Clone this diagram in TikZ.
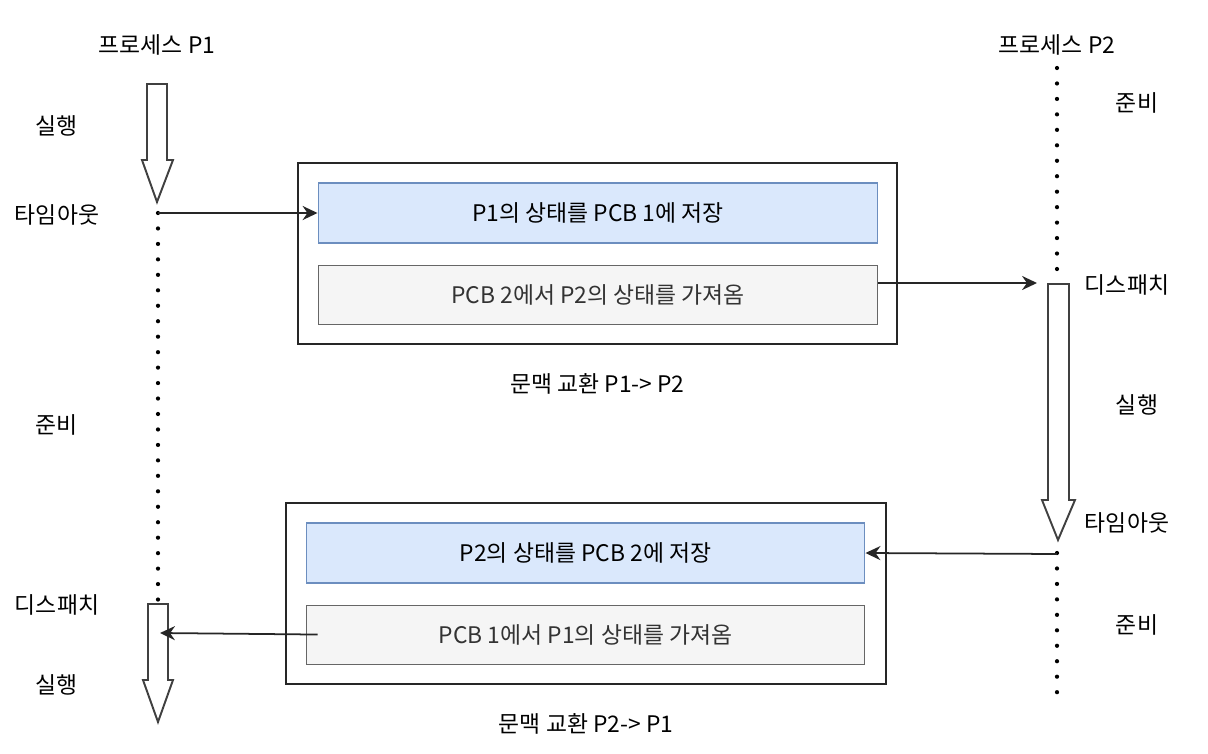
\documentclass[tikz,border=0pt]{standalone}
\usepackage{fontspec}
\setmainfont{Noto Sans CJK KR}
\usetikzlibrary{positioning, arrows.meta}

\definecolor{savefill}{HTML}{DAE8FC}
\definecolor{savedraw}{HTML}{6C8EBF}
\definecolor{loadfill}{HTML}{F5F5F5}
\definecolor{loaddraw}{HTML}{666666}
\definecolor{loadtext}{HTML}{333333}

\begin{document}
\begin{tikzpicture}[x=0.02cm, y=-0.02cm, font=\fontsize{13}{15.5}\selectfont,
    lbl/.style={inner sep=0pt},
    savebox/.style={draw=savedraw, fill=savefill, line width=0.6pt, minimum width=11.2cm, minimum height=1.2cm, inner sep=0pt},
    loadbox/.style={draw=loaddraw, fill=loadfill, text=loadtext, line width=0.6pt, minimum width=11.2cm, minimum height=1.18cm, inner sep=0pt},
    switchbox/.style={draw=black!85, line width=1.1pt, minimum width=12cm, minimum height=3.62cm, inner sep=0pt},
    conn/.style={-{Stealth[length=8.5pt, width=8pt]}, line width=1pt, black!85},
    waiting/.style={line width=2.4pt, dash pattern=on 0pt off 8.8pt, line cap=round, black},
    running/.style={draw=black!75, line width=1.1pt, fill=white, line join=miter}]

    \useasboundingbox (0,0) rectangle (1208,754);

    % process titles
    \node[lbl] (p1title) at (157,45) {프로세스 P1};
    \node[lbl] (p2title) at (1057,45) {프로세스 P2};

    % P1 time line
    \draw[running] (147,84) -- (167,84) -- (167,160) -- (173,160) -- (157,202) -- (142,160) -- (147,160) -- cycle;
    \draw[waiting] (158,213) -- (158,604);
    \draw[running] (148,604) -- (168,604) -- (168,680) -- (173,680) -- (158,722) -- (143,680) -- (148,680) -- cycle;
    \coordinate (p1timeout) at (158,213);
    \coordinate (p1dispatch) at (160,633);

    \node[lbl] (p1run) at (57,126) {실행};
    \node[lbl] (p1out) at (57,215) {타임아웃};
    \node[lbl] (p1ready) at (57,425) {준비};
    \node[lbl] (p1disp) at (57,605) {디스패치};
    \node[lbl] (p1run2) at (57,685) {실행};

    % P2 time line
    \draw[waiting] (1057,68) -- (1057,284);
    \draw[running] (1048,284) -- (1069,284) -- (1069,500) -- (1075,500) -- (1058,540) -- (1042,500) -- (1048,500) -- cycle;
    \draw[waiting] (1057,553) -- (1057,705);
    \coordinate (p2dispatch) at (1037,283);
    \coordinate (p2timeout) at (1057,554);

    \node[lbl] (p2ready) at (1137,103) {준비};
    \node[lbl] (p2disp) at (1127,285) {디스패치};
    \node[lbl] (p2run) at (1137,405) {실행};
    \node[lbl] (p2out) at (1127,523) {타임아웃};
    \node[lbl] (p2ready2) at (1137,625) {준비};

    % context switch P1 -> P2
    \node[switchbox] (switch1) at (597.5,253.5) {};
    \node[savebox] (save1) at (598,213) {P1의 상태를 PCB 1에 저장};
    \node[loadbox, below=0.42cm of save1] (load1) {PCB 2에서 P2의 상태를 가져옴};
    \node[lbl, below=0.56cm of switch1] (cap1) {문맥 교환 P1-> P2};

    % context switch P2 -> P1
    \node[switchbox] (switch2) at (586,593.5) {};
    \node[savebox, minimum width=11.18cm] (save2) at (585.5,553) {P2의 상태를 PCB 2에 저장};
    \node[loadbox, minimum width=11.18cm, below=0.42cm of save2] (load2) {PCB 1에서 P1의 상태를 가져옴};
    \node[lbl, below=0.56cm of switch2] (cap2) {문맥 교환 P2-> P1};

    \draw[conn] (p1timeout) -- (save1.west);
    \draw[conn] (load1.east |- p2dispatch) -- (p2dispatch);
    \draw[conn] (p2timeout) -- (save2.east);
    \draw[conn] ([xshift=0.24cm]load2.west) -- (p1dispatch);
\end{tikzpicture}
\end{document}
